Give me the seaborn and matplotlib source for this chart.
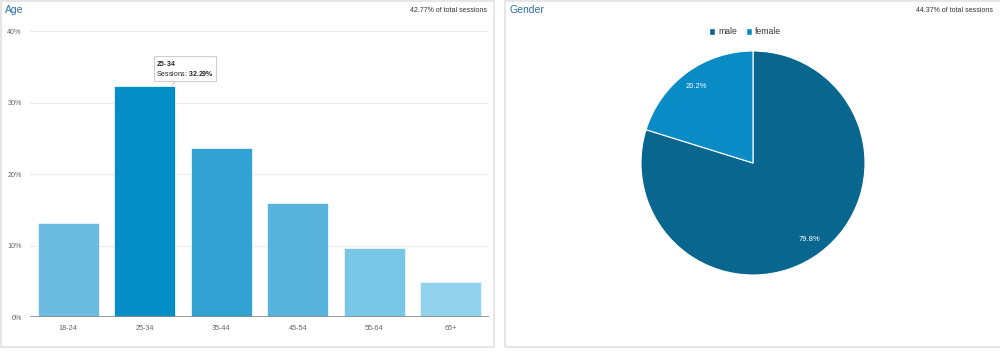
import matplotlib
matplotlib.use("Agg")
import matplotlib.pyplot as plt
from matplotlib.patches import Rectangle, Patch
import pandas as pd
import seaborn as sns

# data
age_groups = ["18-24", "25-34", "35-44", "45-54", "55-64", "65+"]
age_share = [13.1, 32.29, 23.6, 15.9, 9.6, 4.9]
age_colors = ["#6abde0", "#058dc7", "#31a2d3", "#58b4dc", "#77c6e6", "#92d2ed"]
age_ticks = [0, 10, 20, 30, 40]
age_total = "42.77% of total sessions"

genders = ["male", "female"]
gender_share = [79.8, 20.2]
gender_colors = ["#08668f", "#098cc6"]
gender_total = "44.37% of total sessions"

highlight = 1  # bar that carries the tooltip

sns.set_style("white")
plt.rcParams["font.family"] = ["Liberation Sans", "DejaVu Sans"]
plt.rcParams["mathtext.fontset"] = "custom"
plt.rcParams["mathtext.rm"] = "Liberation Sans"
plt.rcParams["mathtext.bf"] = "Liberation Sans:bold"

W, H = 1000, 351
fig = plt.figure(figsize=(W / 100, H / 100), dpi=100)


def px_rect(x0, y0, x1, y1):
    # pixel box (top-left origin) -> figure fraction rect
    return [x0 / W, 1 - y1 / H, (x1 - x0) / W, (y1 - y0) / H]


def bold(s):
    return "-".join(r"$\mathbf{" + p.replace("%", r"\%") + "}$" for p in s.split("-"))


# panel frames
for x0, x1 in [(0.5, 494), (505, 1003)]:
    fig.patches.append(Rectangle((x0 / W, 1 - 347 / H), (x1 - x0) / W, (346 / H),
                                 transform=fig.transFigure, fill=False,
                                 edgecolor="#e2e2e2", linewidth=1.2))

# ---- Age bar chart
df = pd.DataFrame({"age": age_groups, "share": age_share})
ax = fig.add_axes(px_rect(30, 31, 489, 317))
sns.barplot(data=df, x="age", y="share", hue="age", palette=age_colors,
            saturation=1, legend=False, width=0.8, edgecolor="#eaf6fb",
            linewidth=0.6, ax=ax)
ax.set_ylim(0, 40)
ax.set_xlim(-0.5, len(age_groups) - 0.5)
ax.set_yticks(age_ticks)
ax.set_yticklabels([f"{t}%" for t in age_ticks])
ax.yaxis.grid(True, color="#ebebeb", linewidth=0.8)
ax.set_axisbelow(True)
sns.despine(ax=ax, left=True, top=True, right=True, bottom=True)
ax.axhline(0, color="#8a8a8a", linewidth=1.2, zorder=5)
ax.tick_params(axis="both", length=0, labelsize=5.2, labelcolor="#666666", pad=6)
ax.set_xlabel("")
ax.set_ylabel("")

# tooltip over the highlighted bar
tip_xy = (highlight + 0.35, age_share[highlight])
tip = (bold(age_groups[highlight]) + "\nSessions: "
       + bold(f"{age_share[highlight]:.2f}%"))
ax.annotate(tip, xy=tip_xy, xytext=(-11, 5.5), textcoords="offset points",
            fontsize=5, color="#222222", ha="left", va="bottom", linespacing=1.25,
            bbox=dict(boxstyle="square,pad=0.35", fc="white", ec="#cfcfcf", lw=0.8),
            arrowprops=dict(arrowstyle="-", color="#cfcfcf", lw=0.8,
                            shrinkA=0, shrinkB=0), zorder=10)

fig.text(5 / W, 1 - 10 / H, "Age", fontsize=7.5, color="#2b6fa6", va="center")
fig.text(487 / W, 1 - 10 / H, age_total, fontsize=5, color="#333333",
         ha="right", va="center")

# ---- Gender pie chart
pax = fig.add_axes(px_rect(641, 51, 865, 275))
wedges, _, autotexts = pax.pie(gender_share, colors=gender_colors, startangle=90,
                               counterclock=False, autopct="%.1f%%", pctdistance=0.85,
                               wedgeprops=dict(edgecolor="white", linewidth=0.8),
                               textprops=dict(color="white", fontsize=5.5))
pax.set_xlim(-1, 1)
pax.set_ylim(-1, 1)
pax.set_aspect("equal")
pax.axis("off")

handles = [Patch(facecolor=c, label=g) for g, c in zip(genders, gender_colors)]
fig.legend(handles=handles, loc="center", bbox_to_anchor=(745 / W, 1 - 32 / H),
           ncol=2, frameon=False, fontsize=6.2, handlelength=0.75, handleheight=0.9,
           handletextpad=0.35, columnspacing=1.0, labelcolor="#333333")

fig.text(510 / W, 1 - 10 / H, "Gender", fontsize=7.5, color="#2b6fa6", va="center")
fig.text(993 / W, 1 - 10 / H, gender_total, fontsize=5, color="#333333",
         ha="right", va="center")

fig.savefig("out.png", dpi=100)
